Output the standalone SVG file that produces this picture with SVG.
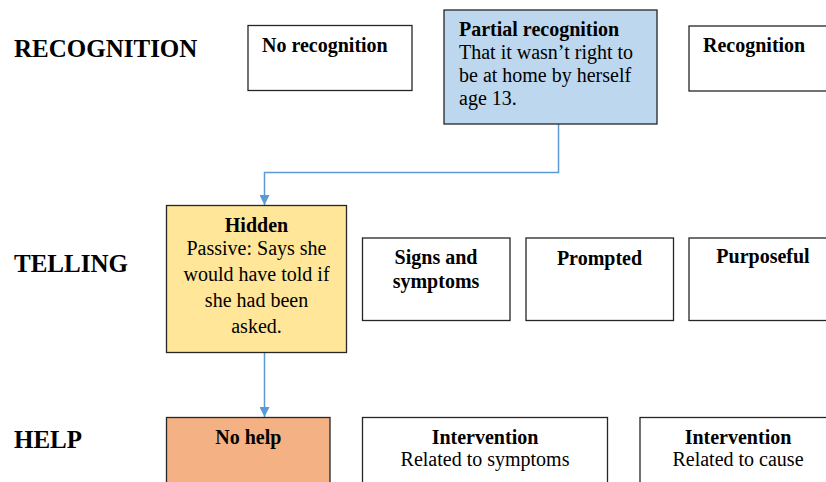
<svg xmlns="http://www.w3.org/2000/svg" width="826" height="482" viewBox="0 0 826 482">
  <style>
    .box { stroke: #262626; stroke-width: 1.3; fill: #ffffff; }
    .blue { fill: #bdd7ee; }
    .yellow { fill: #ffe699; }
    .orange { fill: #f4b183; }
    text { font-family: "Liberation Serif", "Times New Roman", serif; fill: #000000; }
    .label { font-size: 25px; font-weight: bold; }
    .title { font-size: 20px; font-weight: bold; }
    .body { font-size: 20px; }
    .mid { text-anchor: middle; }
    .link { fill: none; stroke: #5b9bd5; stroke-width: 1.5; }
  </style>
  <defs>
    <marker id="arrow" viewBox="0 0 10 10" refX="10" refY="5" markerWidth="10" markerHeight="10" markerUnits="userSpaceOnUse" orient="auto">
      <path d="M0,0 L10,5 L0,10 Z" fill="#5b9bd5"/>
    </marker>
  </defs>

  <rect width="826" height="482" fill="#ffffff"/>

  <!-- row labels -->
  <g id="row-labels">
    <text class="label" x="14" y="57">RECOGNITION</text>
    <text class="label" x="14" y="272">TELLING</text>
    <text class="label" x="14" y="448">HELP</text>
  </g>

  <!-- connectors -->
  <g id="connectors">
    <path class="link" d="M558.5,124 V172.5 H264.5 V205" marker-end="url(#arrow)"/>
    <path class="link" d="M264.5,353 V417" marker-end="url(#arrow)"/>
  </g>

  <!-- recognition row -->
  <g id="no-recognition">
    <rect class="box" x="248" y="25.5" width="164" height="65"/>
    <text class="title" x="262" y="52">No recognition</text>
  </g>
  <g id="partial-recognition">
    <rect class="box blue" x="444" y="10" width="213" height="114"/>
    <text class="title" x="459" y="36">Partial recognition</text>
    <text class="body" x="459" y="59">That it wasn’t right to</text>
    <text class="body" x="459" y="82">be at home by herself</text>
    <text class="body" x="459" y="105">age 13.</text>
  </g>
  <g id="recognition">
    <rect class="box" x="689" y="26" width="164" height="65"/>
    <text class="title" x="703" y="52">Recognition</text>
  </g>

  <!-- telling row -->
  <g id="hidden">
    <rect class="box yellow" x="166.5" y="205.5" width="180" height="147"/>
    <text class="title mid" x="256.5" y="232">Hidden</text>
    <text class="body mid" x="256.5" y="255">Passive: Says she</text>
    <text class="body mid" x="256.5" y="281">would have told if</text>
    <text class="body mid" x="256.5" y="307">she had been</text>
    <text class="body mid" x="256.5" y="333">asked.</text>
  </g>
  <g id="signs-and-symptoms">
    <rect class="box" x="362.5" y="238" width="147.5" height="82.5"/>
    <text class="title mid" x="436" y="264">Signs and</text>
    <text class="title mid" x="436" y="288">symptoms</text>
  </g>
  <g id="prompted">
    <rect class="box" x="526" y="238" width="147.5" height="82.5"/>
    <text class="title mid" x="599.5" y="265">Prompted</text>
  </g>
  <g id="purposeful">
    <rect class="box" x="689" y="238" width="148" height="82.5"/>
    <text class="title mid" x="763" y="263">Purposeful</text>
  </g>

  <!-- help row -->
  <g id="no-help">
    <rect class="box orange" x="166.5" y="417.5" width="163.5" height="80"/>
    <text class="title mid" x="248.3" y="444">No help</text>
  </g>
  <g id="intervention-symptoms">
    <rect class="box" x="362.5" y="417.5" width="245" height="80"/>
    <text class="title mid" x="485" y="444">Intervention</text>
    <text class="body mid" x="485" y="466">Related to symptoms</text>
  </g>
  <g id="intervention-cause">
    <rect class="box" x="640" y="417.5" width="196" height="80"/>
    <text class="title mid" x="738" y="444">Intervention</text>
    <text class="body mid" x="738" y="466">Related to cause</text>
  </g>
</svg>
